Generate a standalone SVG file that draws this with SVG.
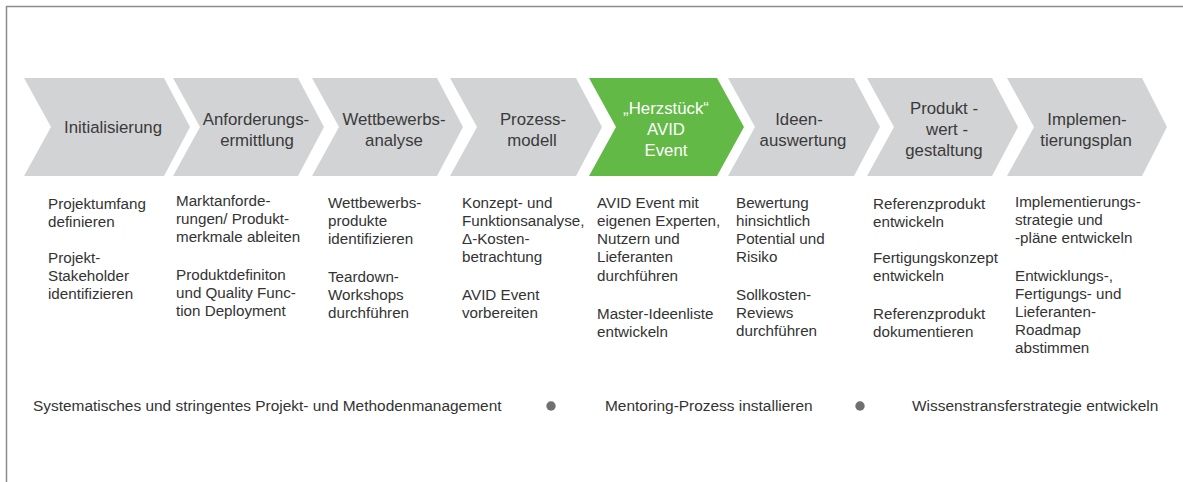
<svg xmlns="http://www.w3.org/2000/svg" width="1183" height="482" viewBox="0 0 1183 482">
<style>
.chev{fill:#d2d3d5}
.green{fill:#62b946}
.ct{font-family:"Liberation Sans",Arial,sans-serif;font-size:16.8px;fill:#3a3a3a;text-anchor:middle}
.cw{font-family:"Liberation Sans",Arial,sans-serif;font-size:16.8px;fill:#ffffff;text-anchor:middle}
.lt{font-family:"Liberation Sans",Arial,sans-serif;font-size:15.2px;fill:#333333}
.ft{font-family:"Liberation Sans",Arial,sans-serif;font-size:15.45px;fill:#333333}
.dot{fill:#707070}
</style>
<rect width="1183" height="482" fill="#ffffff"/>
<path d="M6.5,482 V6.5 H1183" fill="none" stroke="#8c8c8c" stroke-width="1.5"/>

<g id="n1">
<polygon class="chev" points="24,78 164,78 190,127 164,176 24,176 51,127"/>
<text class="ct" x="113" y="133">Initialisierung</text>
</g>
<g id="n2">
<polygon class="chev" points="173,78 298,78 324,127 298,176 173,176 200,127"/>
<text class="ct" x="256" y="125">Anforderungs-</text>
<text class="ct" x="257" y="146">ermittlung</text>
</g>
<g id="n3">
<polygon class="chev" points="312,78 437,78 463,127 437,176 312,176 339,127"/>
<text class="ct" x="394" y="125">Wettbewerbs-</text>
<text class="ct" x="394" y="146">analyse</text>
</g>
<g id="n4">
<polygon class="chev" points="450,78 576,78 602,127 576,176 450,176 477,127"/>
<text class="ct" x="533" y="125">Prozess-</text>
<text class="ct" x="532" y="146">modell</text>
</g>
<g id="n5">
<polygon class="green" points="589,78 717,78 744,127 717,176 589,176 616,127"/>
<text class="cw" x="666" y="114">„Herzstück“</text>
<text class="cw" x="666" y="135">AVID</text>
<text class="cw" x="666" y="156">Event</text>
</g>
<g id="n6">
<polygon class="chev" points="728,78 854,78 880,127 854,176 728,176 755,127"/>
<text class="ct" x="799" y="125">Ideen-</text>
<text class="ct" x="803" y="146">auswertung</text>
</g>
<g id="n7">
<polygon class="chev" points="867,78 992,78 1018,127 992,176 867,176 894,127"/>
<text class="ct" x="944" y="114">Produkt -</text>
<text class="ct" x="947" y="135">wert -</text>
<text class="ct" x="944" y="156">gestaltung</text>
</g>
<g id="n8">
<polygon class="chev" points="1007,78 1142,78 1167,127 1142,176 1007,176 1034,127"/>
<text class="ct" x="1087" y="125">Implemen-</text>
<text class="ct" x="1086" y="146">tierungsplan</text>
</g>

<g id="connectors"></g>

<g id="col1" class="lt">
<text x="48" y="209">Projektumfang</text>
<text x="48" y="227">definieren</text>
<text x="48" y="263">Projekt-</text>
<text x="48" y="281">Stakeholder</text>
<text x="48" y="299">identifizieren</text>
</g>
<g id="col2" class="lt">
<text x="176" y="206">Marktanforde-</text>
<text x="176" y="224">rungen/ Produkt-</text>
<text x="176" y="242">merkmale ableiten</text>
<text x="176" y="280">Produktdefiniton</text>
<text x="176" y="298">und Quality Func-</text>
<text x="176" y="316">tion Deployment</text>
</g>
<g id="col3" class="lt">
<text x="328" y="208">Wettbewerbs-</text>
<text x="328" y="226">produkte</text>
<text x="328" y="244">identifizieren</text>
<text x="328" y="282">Teardown-</text>
<text x="328" y="300">Workshops</text>
<text x="328" y="318">durchführen</text>
</g>
<g id="col4" class="lt">
<text x="462" y="208">Konzept- und</text>
<text x="462" y="226">Funktionsanalyse,</text>
<text x="462" y="244">Δ-Kosten-</text>
<text x="462" y="262">betrachtung</text>
<text x="462" y="300">AVID Event</text>
<text x="462" y="318">vorbereiten</text>
</g>
<g id="col5" class="lt">
<text x="597" y="208">AVID Event mit</text>
<text x="597" y="226">eigenen Experten,</text>
<text x="597" y="244">Nutzern und</text>
<text x="597" y="262">Lieferanten</text>
<text x="597" y="281">durchführen</text>
<text x="597" y="319">Master-Ideenliste</text>
<text x="597" y="337">entwickeln</text>
</g>
<g id="col6" class="lt">
<text x="736" y="208">Bewertung</text>
<text x="736" y="226">hinsichtlich</text>
<text x="736" y="244">Potential und</text>
<text x="736" y="262">Risiko</text>
<text x="736" y="300">Sollkosten-</text>
<text x="736" y="318">Reviews</text>
<text x="736" y="336">durchführen</text>
</g>
<g id="col7" class="lt">
<text x="873" y="209">Referenzprodukt</text>
<text x="873" y="227">entwickeln</text>
<text x="873" y="263">Fertigungskonzept</text>
<text x="873" y="281">entwickeln</text>
<text x="873" y="319">Referenzprodukt</text>
<text x="873" y="337">dokumentieren</text>
</g>
<g id="col8" class="lt">
<text x="1015" y="207">Implementierungs-</text>
<text x="1015" y="225">strategie und</text>
<text x="1015" y="243">-pläne entwickeln</text>
<text x="1015" y="281">Entwicklungs-,</text>
<text x="1015" y="299">Fertigungs- und</text>
<text x="1015" y="317">Lieferanten-</text>
<text x="1015" y="335">Roadmap</text>
<text x="1015" y="353">abstimmen</text>
</g>

<g id="footer">
<text class="ft" x="33" y="411">Systematisches und stringentes Projekt- und Methodenmanagement</text>
<circle class="dot" cx="551" cy="406" r="4.7"/>
<text class="ft" x="605" y="411">Mentoring-Prozess installieren</text>
<circle class="dot" cx="860" cy="406" r="4.7"/>
<text class="ft" x="912" y="411">Wissenstransferstrategie entwickeln</text>
</g>
</svg>
